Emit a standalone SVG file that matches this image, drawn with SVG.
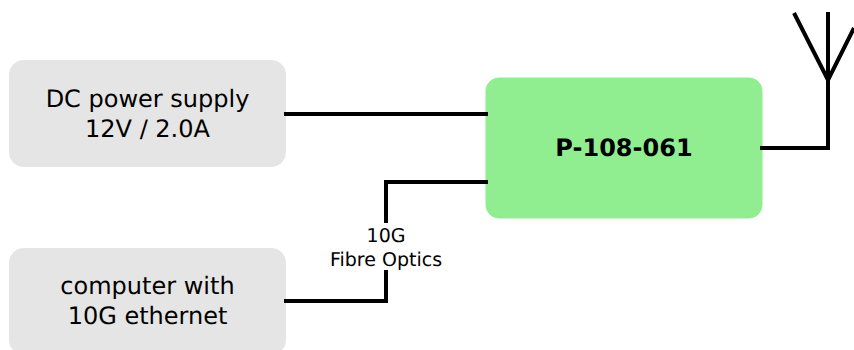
<svg xmlns="http://www.w3.org/2000/svg" width="854" height="350" viewBox="0 0 854 350">
<style>
.grey{fill:#e5e5e5;stroke:#e5e5e5;stroke-width:1}
.t{font-family:"DejaVu Sans",sans-serif;font-size:24px;fill:#000;text-anchor:middle;text-rendering:geometricPrecision}
.b{font-weight:bold}
.s{font-size:19px}
.c{fill:none;stroke:#000;stroke-width:4}
</style>
<g id="power"><rect class="grey" x="9.500" y="60.500" width="276" height="106" rx="14"/><text class="t" x="147.500" y="107">DC power supply</text><text class="t" x="147.500" y="137">12V / 2.0A</text></g>
<g id="computer"><rect class="grey" x="9.500" y="248.500" width="276" height="106" rx="14"/><text class="t" x="147.500" y="294">computer with</text><text class="t" x="147.500" y="324">10G ethernet</text></g>
<g id="device"><rect x="485.500" y="77.500" width="277" height="141" rx="14" fill="#90ee90"/><text class="t b" x="624" y="155.500">P-108-061</text></g>
<g id="connectors">
<path class="c" d="M284 114H488"/>
<path class="c" d="M284 301H386V182H488"/>
<path class="c" d="M760 148H828V12"/>
<path class="c" d="M794 13L828 80L854 28"/>
</g>
<g id="label"><rect x="330" y="223" width="112" height="47" fill="#fff"/><text class="t s" x="386" y="241.500">10G</text><text class="t s" x="386" y="265.500">Fibre Optics</text></g>
</svg>
